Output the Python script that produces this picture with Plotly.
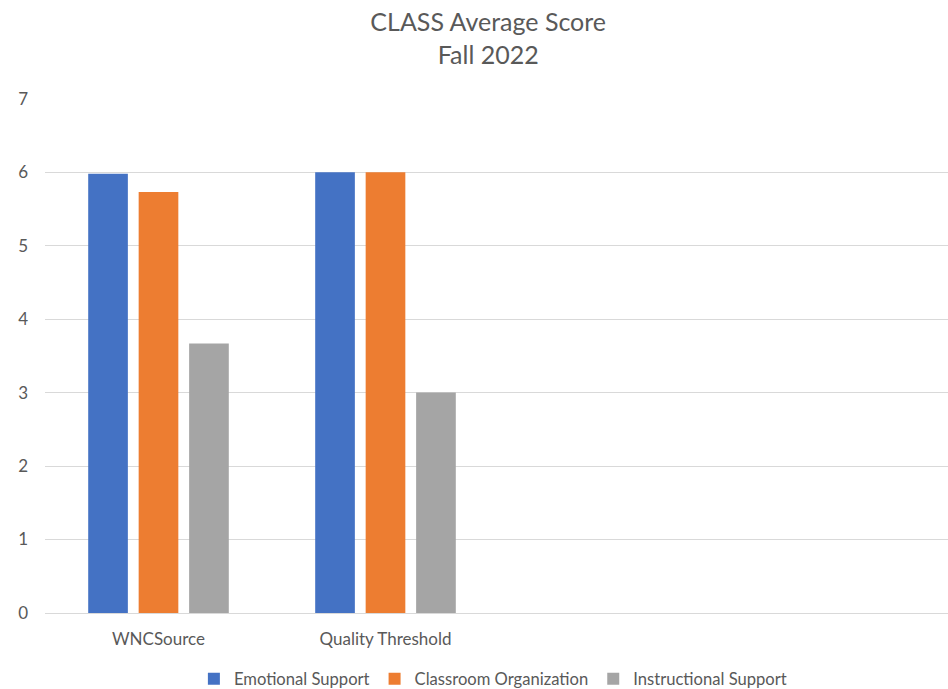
import plotly.graph_objects as go

categories = ["WNCSource", "Quality Threshold", " ", "  "]
series_names = ["Emotional Support", "Classroom Organization", "Instructional Support"]
emotional = [5.98, 6.0, None, None]
classroom = [5.73, 6.0, None, None]
instructional = [3.67, 3.0, None, None]
colors = ["#4472C4", "#ED7D31", "#A5A5A5"]
y_ticks = [0, 1, 2, 3, 4, 5, 6, 7]

FONT = "Lato, 'Open Sans', sans-serif"
TXT = "#595959"

fig = go.Figure()
for name, vals, col in zip(series_names, [emotional, classroom, instructional], colors):
    fig.add_trace(go.Bar(x=categories, y=vals, name=name, marker_color=col,
                         marker_line_width=0))

fig.update_layout(
    width=948, height=689,
    paper_bgcolor="white", plot_bgcolor="white",
    margin=dict(l=45, r=0, t=98, b=76),
    font=dict(family=FONT, color=TXT, size=17),
    title=dict(text="CLASS Average Score<br>Fall 2022", x=0.515, xanchor="center",
               y=1 - 31 / 689, yanchor="top", yref="container",
               font=dict(size=25, color=TXT, family=FONT)),
    barmode="group", bargap=0.333, bargroupgap=0.214,
    showlegend=True,
    legend=dict(orientation="h", x=0.496, xanchor="center", y=1 - 679 / 689,
                yanchor="middle", yref="container", font=dict(size=16.6, color=TXT),
                itemwidth=30, traceorder="normal"),
    xaxis=dict(type="category", categoryorder="array", categoryarray=categories,
               range=[-0.5, 3.478], showgrid=False, zeroline=False, showline=False,
               ticks="", tickfont=dict(size=17, color=TXT), ticklabelstandoff=14),
    yaxis=dict(range=[0, 7.01], tickvals=y_ticks, showgrid=True, gridcolor="#D9D9D9",
               gridwidth=1, zeroline=True, zerolinecolor="#D9D9D9", zerolinewidth=1,
               showline=False, ticks="",
               tickfont=dict(size=17, color=TXT), ticklabelstandoff=16),
)

fig.write_html("out.html", config={"displayModeBar": False},
               post_script="document.body.style.margin='0';")
